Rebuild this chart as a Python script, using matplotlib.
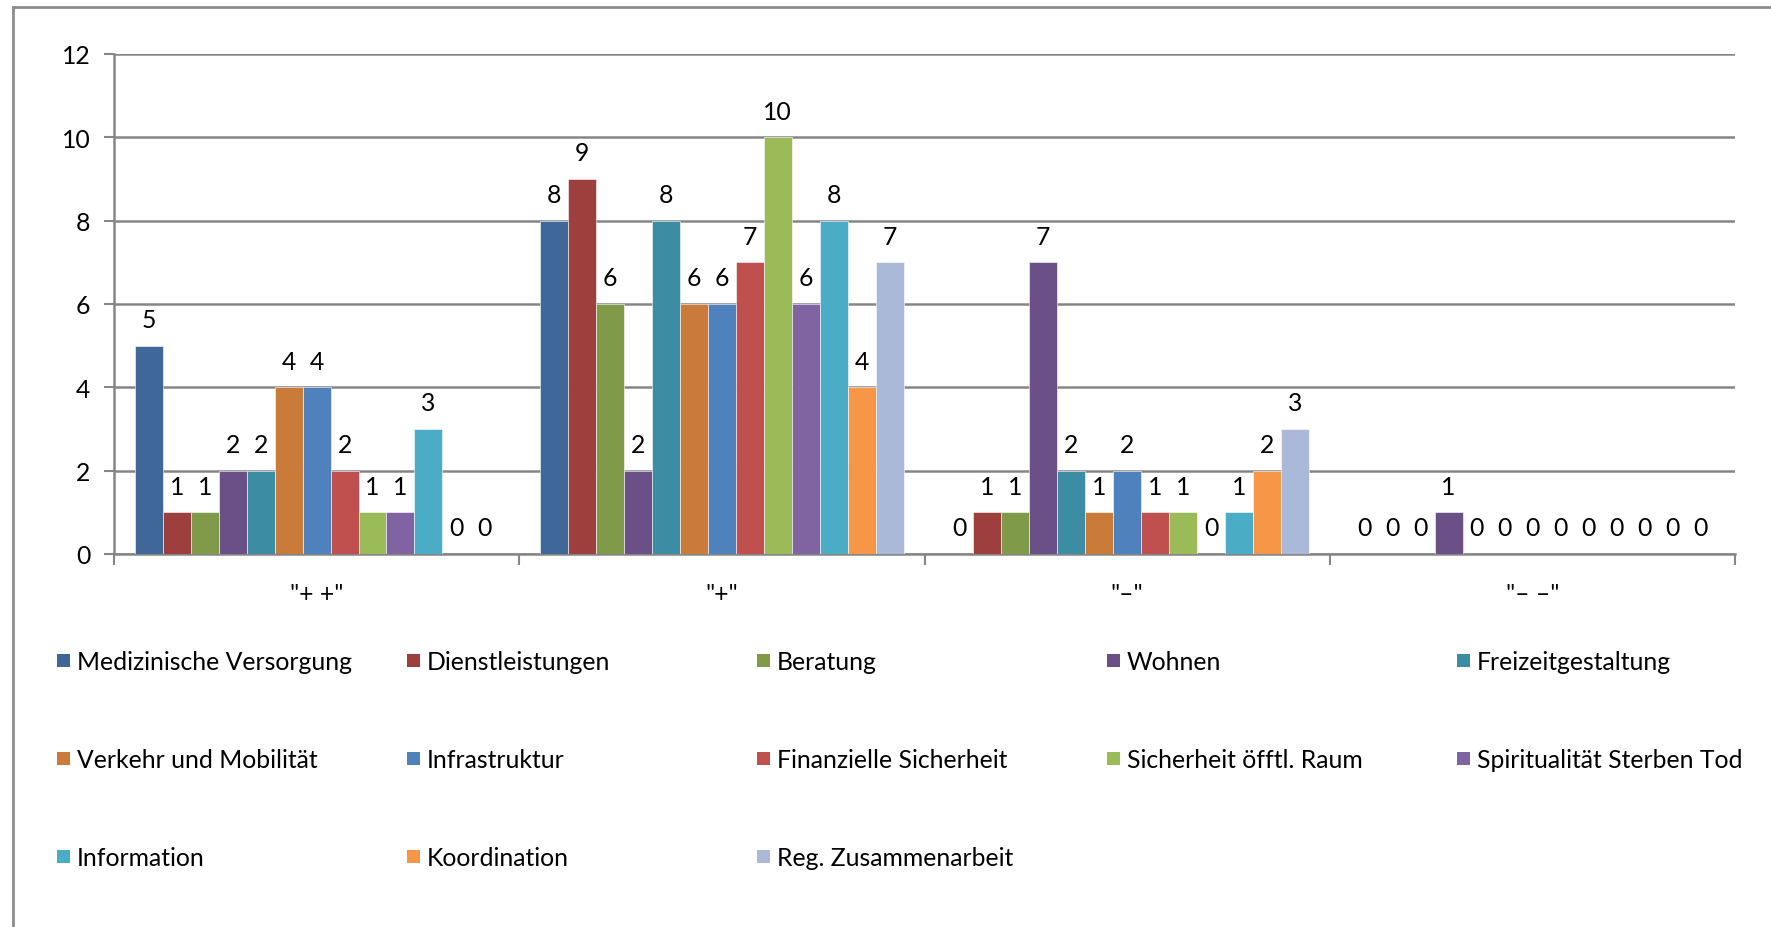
import matplotlib
matplotlib.use("Agg")
import matplotlib.pyplot as plt
import matplotlib.patches as mpatches
from matplotlib.lines import Line2D
import numpy as np

plt.rcParams['font.family'] = ['Lato', 'DejaVu Sans']

# categories on the x axis
categories = ['"+ +"', '"+"', '"\u2013"', '"\u2013 \u2013"']

# series names (legend order) and values per category
series_names = [
    'Medizinische Versorgung', 'Dienstleistungen', 'Beratung', 'Wohnen',
    'Freizeitgestaltung', 'Verkehr und Mobilität', 'Infrastruktur',
    'Finanzielle Sicherheit', 'Sicherheit öfftl. Raum',
    'Spiritualität Sterben Tod', 'Information', 'Koordination',
    'Reg. Zusammenarbeit',
]
values = [
    [5, 8, 0, 0],
    [1, 9, 1, 0],
    [1, 6, 1, 0],
    [2, 2, 7, 1],
    [2, 8, 2, 0],
    [4, 6, 1, 0],
    [4, 6, 2, 0],
    [2, 7, 1, 0],
    [1, 10, 1, 0],
    [1, 6, 0, 0],
    [3, 8, 1, 0],
    [0, 4, 2, 0],
    [0, 7, 3, 0],
]
colors = [
    '#3F6899', '#9C3F3D', '#7F9A48', '#6A5087', '#3C8DA3', '#CB7B39',
    '#4F81BD', '#C0504D', '#9BBB59', '#8064A2', '#4BACC6', '#F79646',
    '#A9B9D7',
]

W, H = 1771, 928
fig = plt.figure(figsize=(W / 100, H / 100), dpi=100)
ax = fig.add_axes([114 / W, 1 - 555 / H, (1735 - 114) / W, (555 - 55) / H])

grid_col = '#868686'
fsize = 17.8

n = len(series_names)
bar_w = 1 / (n + 1.5)
x = np.arange(len(categories))
for i, (name, vals, c) in enumerate(zip(series_names, values, colors)):
    pos = x - (n * bar_w) / 2 + bar_w * (i + 0.5)
    bars = ax.bar(pos, vals, width=bar_w, color=c, edgecolor='white',
                  linewidth=0.4, zorder=3, label=name)
    for b, v in zip(bars, vals):
        ax.annotate(str(v), (b.get_x() + b.get_width() / 2, v),
                    xytext=(0, 13.5), textcoords='offset points',
                    ha='center', va='baseline', fontsize=fsize, zorder=4)

ax.set_xlim(-0.5, len(categories) - 0.5)
ax.set_ylim(0, 12)
ax.set_yticks(np.arange(0, 13, 2))
ax.yaxis.grid(True, color=grid_col, linewidth=1.8, zorder=0)
ax.set_axisbelow(True)
ax.tick_params(axis='y', length=7, width=1.5, color=grid_col, pad=10,
               labelsize=fsize)

# category boundary ticks, labels at centres
ax.set_xticks(np.arange(-0.5, len(categories)), minor=False)
ax.set_xticklabels([])
ax.set_xticks(x, minor=True)
ax.set_xticklabels(categories, minor=True, fontsize=fsize)
ax.tick_params(axis='x', which='major', length=8, width=1.5, color=grid_col)
ax.tick_params(axis='x', which='minor', length=0, pad=20)

for s in ['top', 'right']:
    ax.spines[s].set_visible(False)
for s in ['left', 'bottom']:
    ax.spines[s].set_color(grid_col)
    ax.spines[s].set_linewidth(1.8)

# legend laid out in an even grid, like the spreadsheet chart
col_x = [57, 407, 757, 1107, 1457]
row_y = [661, 759, 857]
sq = 13
for i, (name, c) in enumerate(zip(series_names, colors)):
    cx = col_x[i % 5]
    cy = row_y[i // 5]
    fig.patches.append(mpatches.Rectangle(
        (cx / W, 1 - (cy + sq / 2) / H), sq / W, sq / H,
        transform=fig.transFigure, facecolor=c, edgecolor='none'))
    fig.text((cx + sq + 7) / W, 1 - cy / H, name, fontsize=fsize,
             ha='left', va='center_baseline')

# outer chart frame (left and top edges visible)
fig.add_artist(Line2D([13 / W, 13 / W], [0, 1 - 8 / H], color='#8c8c8c',
                      linewidth=2, transform=fig.transFigure))
fig.add_artist(Line2D([13 / W, 1], [1 - 8 / H, 1 - 8 / H], color='#8c8c8c',
                      linewidth=2, transform=fig.transFigure))

fig.savefig('out.png', dpi=100)
